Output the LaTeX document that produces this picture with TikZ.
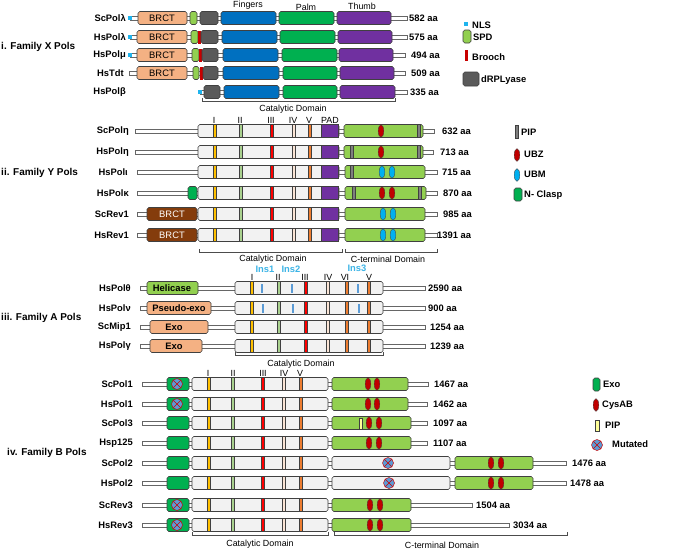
\documentclass[tikz,border=0pt]{standalone}
\usepackage{fontspec}
\setmainfont{Liberation Sans}
\definecolor{cNls}{HTML}{1FB4EE}
\definecolor{cBrct}{HTML}{F4B183}
\definecolor{cSpd}{HTML}{92D050}
\definecolor{cDrp}{HTML}{5A5A5A}
\definecolor{cFing}{HTML}{0070C0}
\definecolor{cPalm}{HTML}{00B050}
\definecolor{cThumb}{HTML}{7030A0}
\definecolor{cBrooch}{HTML}{C80000}
\definecolor{cCat}{HTML}{F2F2F2}
\definecolor{cI}{HTML}{FFC000}
\definecolor{cII}{HTML}{A9D18E}
\definecolor{cIII}{HTML}{FF0000}
\definecolor{cIV}{HTML}{FBE5D6}
\definecolor{cV}{HTML}{ED7D31}
\definecolor{cPip}{HTML}{7F7F7F}
\definecolor{cUbz}{HTML}{C00000}
\definecolor{cUbm}{HTML}{00B0F0}
\definecolor{cBrown}{HTML}{843C0C}
\definecolor{cIns}{HTML}{5B9BD5}
\definecolor{cInsT}{HTML}{3CB4E6}
\definecolor{cPipB}{HTML}{FFFF99}
\definecolor{cMut}{HTML}{5B9BD5}
% 连接段, 结构域, 基序
\newcommand{\lk}[3]{\draw[lnk] (#1,#3-1.8) rectangle (#2,#3+1.8);}
\newcommand{\bx}[4]{\draw[dbox,fill=#4] (#1,#3-6.5) rectangle (#2,#3+6.5);}
\newcommand{\mt}[3]{\draw[mot,fill=#3] (#1-1.6,#2-6.5) rectangle (#1+1.6,#2+6.5);}
\newcommand{\ovl}[3]{\draw[mot,fill=#3] (#1,#2) ellipse (0.085cm and 0.19cm);}
\newcommand{\ins}[2]{\fill[cIns] (#1-1,#2-4.5) rectangle (#1+1,#2+4.5);}
\newcommand{\mut}[2]{\draw[red!80!black,fill=cMut,line width=0.4pt] (#1,#2) circle (0.165cm);
  \draw[red!80!black,line width=0.4pt] (#1-3.8,#2-3.8) -- (#1+3.8,#2+3.8) (#1-3.8,#2+3.8) -- (#1+3.8,#2-3.8);}
\newcommand{\ycore}[1]{\bx{198}{339}{#1}{cCat}\mt{215}{#1}{cI}\mt{241}{#1}{cII}\mt{272}{#1}{cIII}\mt{294}{#1}{cIV}\mt{310}{#1}{cV}
  \draw[mot,fill=cThumb] (321,#1-6.5) rectangle (338,#1+6.5);}
\newcommand{\acore}[1]{\bx{235}{383}{#1}{cCat}\mt{252}{#1}{cI}\mt{279}{#1}{cII}\mt{306}{#1}{cIII}\mt{328}{#1}{cIV}\mt{347}{#1}{cV}\mt{369}{#1}{cV}}
\newcommand{\bcore}[1]{\bx{167}{189}{#1}{cPalm}\bx{192}{328}{#1}{cCat}\mt{209}{#1}{cI}\mt{233}{#1}{cII}\mt{263}{#1}{cIII}\mt{284}{#1}{cIV}\mt{301}{#1}{cV}}
\begin{document}
\begin{tikzpicture}[x=0.03cm, y=-0.03cm,
    lab/.style={font=\fontsize{8}{9}\selectfont\bfseries, inner sep=0pt},
    fam/.style={font=\fontsize{8.5}{10}\selectfont\bfseries, anchor=west, inner sep=0pt},
    dom/.style={font=\fontsize{7.6}{9}\selectfont, inner sep=0pt},
    txt/.style={font=\fontsize{8}{9}\selectfont, inner sep=0pt},
    dbox/.style={draw=black!75, line width=0.5pt, rounded corners=1.5pt},
    lnk/.style={draw=black!60, fill=white, line width=0.4pt},
    mot/.style={draw=black!75, line width=0.3pt},
    brk/.style={draw=black!70, line width=0.5pt}]
    \useasboundingbox (0,0) rectangle (685,551);
    \fill[white] (0,0) rectangle (685,551);

    % i. Family X
    \node[fam] (famx) at (1,47) {i. Family X Pols};
    \node[dom] (tfing) at (248,5) {Fingers};
    \node[dom] (tpalm) at (306,7) {Palm};
    \node[dom] (tthumb) at (362,6) {Thumb};

    \node[lab, anchor=east] (scpoll) at (126,18) {ScPolλ};
    \lk{130}{407}{18}
    \fill[cNls] (128,16) rectangle (132,20);
    \bx{138}{187}{18}{cBrct} \node[txt] (brctx1) at (162,18) {BRCT};
    \bx{190}{197}{18}{cSpd} \bx{200}{218}{18}{cDrp}
    \bx{221}{276}{18}{cFing} \bx{279}{334}{18}{cPalm} \bx{337}{391}{18}{cThumb}
    \node[lab, anchor=west] (aax1) at (409,18) {582 aa};

    \node[lab, anchor=east] (hspoll) at (126,37) {HsPolλ};
    \lk{130}{407}{37}
    \fill[cNls] (128,35) rectangle (132,39);
    \bx{137}{187}{37}{cBrct} \node[txt] (brctx2) at (162,37) {BRCT};
    \bx{191}{198}{37}{cSpd} \fill[cBrooch] (198,30.5) rectangle (200.5,43.5);
    \bx{201}{218}{37}{cDrp}
    \bx{222}{277}{37}{cFing} \bx{280}{335}{37}{cPalm} \bx{338}{392}{37}{cThumb}
    \node[lab, anchor=west] (aax2) at (409,37) {575 aa};

    \node[lab, anchor=east] (hspolm) at (126,55) {HsPolμ};
    \lk{130}{405}{55}
    \fill[cNls] (128,53) rectangle (132,57);
    \bx{137}{187}{55}{cBrct} \node[txt] (brctx3) at (162,55) {BRCT};
    \bx{192}{199}{55}{cSpd} \fill[cBrooch] (199,48.5) rectangle (201.5,61.5);
    \bx{202}{218}{55}{cDrp}
    \bx{223}{278}{55}{cFing} \bx{282}{337}{55}{cPalm} \bx{339}{393}{55}{cThumb}
    \node[lab, anchor=west] (aax3) at (411,55) {494 aa};

    \node[lab, anchor=east] (hstdt) at (124,73) {HsTdt};
    \lk{129}{405}{73}
    \bx{137}{187}{73}{cBrct} \node[txt] (brctx4) at (162,73) {BRCT};
    \bx{193}{199}{73}{cSpd} \fill[cBrooch] (200,66.5) rectangle (202.5,79.5);
    \bx{203}{218}{73}{cDrp}
    \bx{223}{279}{73}{cFing} \bx{283}{337}{73}{cPalm} \bx{340}{394}{73}{cThumb}
    \node[lab, anchor=west] (aax4) at (411,73) {509 aa};

    \node[lab, anchor=east] (hspolb) at (126,92) {HsPolβ};
    \lk{200}{407}{92}
    \fill[cNls] (198,90) rectangle (202,94);
    \bx{204}{220}{92}{cDrp}
    \bx{224}{279}{92}{cFing} \bx{283}{337}{92}{cPalm} \bx{340}{395}{92}{cThumb}
    \node[lab, anchor=west] (aax5) at (410,92) {335 aa};

    \draw[brk] (202,98) |- (395,101) -- (395,98);
    \node[dom] (catx) at (293,109) {Catalytic Domain};

    % 图例 X
    \fill[cNls] (464,22) rectangle (468,26);
    \node[lab, anchor=west] (lnls) at (472,25) {NLS};
    \draw[dbox,fill=cSpd] (463,30) rectangle (471,43);
    \node[lab, anchor=west] (lspd) at (473,37) {SPD};
    \fill[cBrooch] (465,50) rectangle (467.5,61);
    \node[lab, anchor=west] (lbro) at (472,57) {Brooch};
    \draw[dbox,fill=cDrp] (463,72) rectangle (479,86);
    \node[lab, anchor=west] (ldrp) at (481,80) {dRPLyase};

    % ii. Family Y
    \node[fam] (famy) at (1,173) {ii. Family Y Pols};
    \node[dom] (yI) at (214,120) {I};
    \node[dom] (yII) at (240,120) {II};
    \node[dom] (yIII) at (271,120) {III};
    \node[dom] (yIV) at (293,120) {IV};
    \node[dom] (yV) at (309,120) {V};
    \node[dom] (yPAD) at (330,120) {PAD};

    \node[lab, anchor=east] (scpoleta) at (129,131) {ScPolη};
    \lk{135}{434}{131} \ycore{131}
    \bx{344}{423}{131}{cSpd} \ovl{381}{131}{cUbz} \mt{419}{131}{cPip}
    \node[lab, anchor=west] (aay1) at (442,131) {632 aa};

    \node[lab, anchor=east] (hspoleta) at (129,152) {HsPolη};
    \lk{135}{433}{152} \ycore{152}
    \bx{344}{423}{152}{cSpd} \mt{352}{152}{cPip} \ovl{381}{152}{cUbz} \mt{419}{152}{cPip}
    \node[lab, anchor=west] (aay2) at (440,152) {713 aa};

    \node[lab, anchor=east] (hspoli) at (128,172) {HsPolι};
    \lk{137}{437}{172} \ycore{172}
    \bx{345}{425}{172}{cSpd} \mt{352}{172}{cPip} \ovl{382}{172}{cUbm} \ovl{392}{172}{cUbm}
    \node[lab, anchor=west] (aay3) at (442,172) {715 aa};

    \node[lab, anchor=east] (hspolk) at (129,193) {HsPolκ};
    \lk{137}{437}{193} \bx{188}{197}{193}{cPalm} \ycore{193}
    \bx{345}{426}{193}{cSpd} \mt{354}{193}{cPip} \ovl{382}{193}{cUbz} \ovl{392}{193}{cUbz} \mt{420}{193}{cPip}
    \node[lab, anchor=west] (aay4) at (443,193) {870 aa};

    \node[lab, anchor=east] (screv1) at (129,214) {ScRev1};
    \lk{137}{437}{214} \bx{147}{197}{214}{cBrown} \node[txt, white] (brcty1) at (172,214) {BRCT};
    \ycore{214}
    \bx{345}{425}{214}{cSpd} \ovl{383}{214}{cUbm} \ovl{393}{214}{cUbm}
    \node[lab, anchor=west] (aay5) at (443,214) {985 aa};

    \node[lab, anchor=east] (hsrev1) at (129,235) {HsRev1};
    \lk{137}{437}{235} \bx{147}{197}{235}{cBrown} \node[txt, white] (brcty2) at (172,235) {BRCT};
    \ycore{235}
    \bx{345}{425}{235}{cSpd} \ovl{383}{235}{cUbm} \ovl{393}{235}{cUbm}
    \node[lab, anchor=west] (aay6) at (437,235) {1391 aa};

    \draw[brk] (199,249) |- (342,252) -- (342,249);
    \draw[brk] (345,249) |- (437,252) -- (437,249);
    \node[dom] (caty) at (273,259) {Catalytic Domain};
    \node[dom] (cty) at (388,259) {C-terminal Domain};

    % 图例 Y
    \mt{517}{132}{cPip}
    \node[lab, anchor=west] (lpip) at (521,132) {PIP};
    \ovl{517}{155}{cUbz}
    \node[lab, anchor=west] (lubz) at (524,154) {UBZ};
    \ovl{517}{175}{cUbm}
    \node[lab, anchor=west] (lubm) at (524,174) {UBM};
    \draw[dbox,fill=cPalm] (514,188) rectangle (522,201);
    \node[lab, anchor=west] (lncl) at (524,195) {N- Clasp};

    % iii. Family A
    \node[fam] (fama) at (1,318) {iii. Family A Pols};
    \node[lab, text=cInsT] (tins1) at (265,269) {Ins1};
    \node[lab, text=cInsT] (tins2) at (291,269) {Ins2};
    \node[lab, text=cInsT] (tins3) at (357,268) {Ins3};
    \node[dom] (aI) at (252,277) {I};
    \node[dom] (aII) at (278,277) {II};
    \node[dom] (aIII) at (305,277) {III};
    \node[dom] (aIV) at (328,277) {IV};
    \node[dom] (aVI) at (345,277) {VI};
    \node[dom] (aV) at (369,277) {V};

    \node[lab, anchor=east] (hspolt) at (131,288) {HsPolθ};
    \lk{140}{425}{288} \bx{147}{198}{288}{cSpd} \node[lab] (heli) at (172,288) {Helicase};
    \acore{288} \ins{262}{288} \ins{292}{288} \ins{358}{288}
    \node[lab, anchor=west] (aaa1) at (428,288) {2590 aa};

    \node[lab, anchor=east] (hspoln) at (131,308) {HsPolν};
    \lk{140}{425}{308} \bx{147}{211}{308}{cBrct} \node[lab] (pexo) at (179,308) {Pseudo-exo};
    \acore{308} \ins{263}{308} \ins{293}{308} \ins{359}{308}
    \node[lab, anchor=west] (aaa2) at (428,308) {900 aa};

    \node[lab, anchor=east] (scmip1) at (131,327) {ScMip1};
    \lk{140}{425}{327} \bx{150}{208}{327}{cBrct} \node[lab] (exoa1) at (174,327) {Exo};
    \acore{327}
    \node[lab, anchor=west] (aaa3) at (430,327) {1254 aa};

    \node[lab, anchor=east] (hspolg) at (131,346) {HsPolγ};
    \lk{140}{425}{346} \bx{150}{202}{346}{cBrct} \node[lab] (exoa2) at (174,346) {Exo};
    \acore{346}
    \node[lab, anchor=west] (aaa4) at (430,346) {1239 aa};

    \draw[brk] (235,352) |- (383,355) -- (383,352);
    \node[dom] (cata) at (301,364) {Catalytic Domain};

    % iv. Family B
    \node[fam] (famb) at (7,453) {iv. Family B Pols};
    \node[dom] (bI) at (208,373) {I};
    \node[dom] (bII) at (233,373) {II};
    \node[dom] (bIII) at (263,373) {III};
    \node[dom] (bIV) at (284,373) {IV};
    \node[dom] (bV) at (300,373) {V};

    \node[lab, anchor=east] (scpol1) at (133,384) {ScPol1};
    \lk{142}{428}{384} \bcore{384} \mut{177}{384}
    \bx{332}{408}{384}{cSpd} \ovl{368}{384}{cUbz} \ovl{377}{384}{cUbz}
    \node[lab, anchor=west] (aab1) at (434,384) {1467 aa};

    \node[lab, anchor=east] (hspol1) at (133,404) {HsPol1};
    \lk{142}{427}{404} \bcore{404} \mut{177}{404}
    \bx{332}{408}{404}{cSpd} \ovl{368}{404}{cUbz} \ovl{377}{404}{cUbz}
    \node[lab, anchor=west] (aab2) at (433,404) {1462 aa};

    \node[lab, anchor=east] (scpol3) at (133,423) {ScPol3};
    \lk{142}{427}{423} \bcore{423}
    \bx{332}{411}{423}{cSpd} \draw[mot,fill=cPipB] (359.5,418) rectangle (362.5,429);
    \ovl{369}{423}{cUbz} \ovl{379}{423}{cUbz}
    \node[lab, anchor=west] (aab3) at (433,423) {1097 aa};

    \node[lab, anchor=east] (hsp125) at (133,443) {Hsp125};
    \lk{142}{427}{443} \bcore{443}
    \bx{332}{411}{443}{cSpd} \ovl{369}{443}{cUbz} \ovl{379}{443}{cUbz}
    \node[lab, anchor=west] (aab4) at (433,443) {1107 aa};

    \node[lab, anchor=east] (scpol2) at (133,463) {ScPol2};
    \lk{142}{566}{463} \bcore{463}
    \bx{332}{450}{463}{cCat} \mut{388}{463}
    \bx{455}{533}{463}{cSpd} \ovl{491}{463}{cUbz} \ovl{501}{463}{cUbz}
    \node[lab, anchor=west] (aab5) at (572,463) {1476 aa};

    \node[lab, anchor=east] (hspol2) at (133,483) {HsPol2};
    \lk{142}{566}{483} \bcore{483}
    \bx{332}{450}{483}{cCat} \mut{389}{483}
    \bx{455}{533}{483}{cSpd} \ovl{491}{483}{cUbz} \ovl{501}{483}{cUbz}
    \node[lab, anchor=west] (aab6) at (570,483) {1478 aa};

    \node[lab, anchor=east] (screv3) at (133,505) {ScRev3};
    \lk{142}{472}{505} \bcore{505} \mut{177}{505}
    \bx{332}{411}{505}{cSpd} \ovl{370}{505}{cUbz} \ovl{380}{505}{cUbz}
    \node[lab, anchor=west] (aab7) at (476,505) {1504 aa};

    \node[lab, anchor=east] (hsrev3) at (133,525) {HsRev3};
    \lk{142}{509}{525} \bcore{525} \mut{177}{525}
    \bx{332}{411}{525}{cSpd} \ovl{370}{525}{cUbz} \ovl{380}{525}{cUbz}
    \node[lab, anchor=west] (aab8) at (513,525) {3034 aa};

    \draw[brk] (192,532) |- (328,535) -- (328,532);
    \draw[brk] (334,532) |- (567,535) -- (567,532);
    \node[dom] (catb) at (260,544) {Catalytic Domain};
    \node[dom] (ctb) at (442,545) {C-terminal Domain};

    % 图例 B
    \draw[dbox,fill=cPalm] (593,378) rectangle (600,391);
    \node[lab, anchor=west] (lexo) at (603,384) {Exo};
    \ovl{596}{405}{cUbz}
    \node[lab, anchor=west] (lcys) at (602,405) {CysAB};
    \draw[mot,fill=cPipB] (595,420) rectangle (599,431);
    \node[lab, anchor=west] (lpipb) at (605,425) {PIP};
    \mut{597}{445}
    \node[lab, anchor=west] (lmut) at (612,444) {Mutated};
\end{tikzpicture}
\end{document}
